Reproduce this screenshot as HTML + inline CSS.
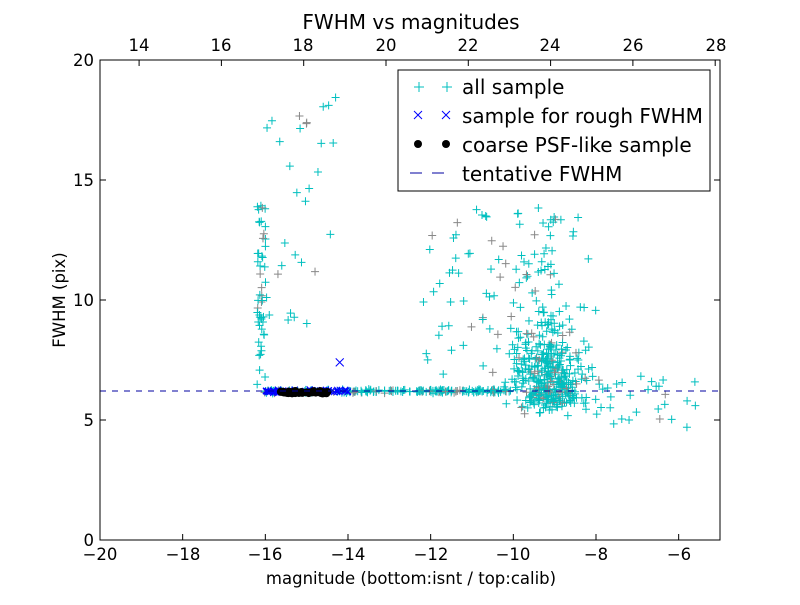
<!DOCTYPE html>
<html><head><meta charset="utf-8"><style>
body{margin:0;background:#fff;}
svg text{font-family:"DejaVu Sans","Liberation Sans",sans-serif;}
</style></head><body>
<svg id="s" width="800" height="600" xmlns="http://www.w3.org/2000/svg">
<rect width="800" height="600" fill="#fff"/>
<g id="pts"></g>
<line x1="100" y1="391" x2="720" y2="391" stroke="#0000a0" stroke-width="1.2" stroke-dasharray="6,6" shape-rendering="crispEdges"/>
<rect x="100" y="60" width="620" height="480" fill="none" stroke="#000" stroke-width="1"/>
<g font-size="16.5" fill="#000" text-anchor="middle">
<text x="100" y="560">−20</text><text x="183" y="560">−18</text><text x="265" y="560">−16</text>
<text x="348" y="560">−14</text><text x="431" y="560">−12</text><text x="513" y="560">−10</text>
<text x="596" y="560">−8</text><text x="679" y="560">−6</text>
<text x="139" y="51">14</text><text x="221" y="51">16</text><text x="303" y="51">18</text>
<text x="386" y="51">20</text><text x="468" y="51">22</text><text x="550" y="51">24</text>
<text x="633" y="51">26</text><text x="716" y="51">28</text>
</g>
<g font-size="16.5" text-anchor="end">
<text x="94" y="546">0</text><text x="94" y="426">5</text><text x="94" y="306">10</text>
<text x="94" y="186">15</text><text x="94" y="66">20</text>
</g>
<g stroke="#000" stroke-width="1" id="ticks"></g>
<text x="411" y="584" font-size="16.5" text-anchor="middle">magnitude (bottom:isnt / top:calib)</text>
<text x="411" y="29" font-size="20" text-anchor="middle">FWHM vs magnitudes</text>
<text transform="translate(65,300) rotate(-90)" font-size="16.5" text-anchor="middle">FWHM (pix)</text>
<rect x="398" y="70" width="312" height="121" fill="#fff" stroke="#000"/>
<g stroke-width="1">
<path d="M414,87h10M419,82v10M442,87h10M447,82v10" stroke="#00bfbf"/>
<path d="M414,111l8,8M422,111l-8,8M442,111l8,8M450,111l-8,8" stroke="#0000ff"/>
<circle cx="418" cy="144" r="4"/><circle cx="446" cy="144" r="4"/>
<path d="M410,173h12M432,173h12" stroke="#0000a0"/>
</g>
<g font-size="20"><text x="462" y="94">all sample</text><text x="462" y="123">sample for rough FWHM</text>
<text x="462" y="152">coarse PSF-like sample</text><text x="462" y="181">tentative FWHM</text></g>
</svg>
<script>
var g=document.getElementById('pts'),tk=document.getElementById('ticks');
var seed=7;function r(){seed=(seed*16807)%2147483647;return seed/2147483647;}
function n(){return (r()+r()+r()-1.5)/0.87;}
function X(v){return 100+(v+20)*41.333;}function Y(v){return 540-v*24;}
var s='';
function plus(x,y,c){var px=X(x),py=Y(y);if(px<101||px>719||py<61||py>539)return;s+='<path d="M'+(px-4)+','+py+'h8M'+px+','+(py-4)+'v8" stroke="'+c+'" stroke-width="1" fill="none"/>';}
function col(){return r()<0.15?'#888':'#00bfbf';}
var i;
for(i=0;i<200;i++){var x=-16+r()*6;plus(x,6.2+n()*0.06,col());}
for(i=0;i<50;i++){plus(-16.1+n()*0.1,6+r()*8,col());}
for(i=0;i<30;i++){plus(-16+r()*1.7,9+r()*9.5,col());}
for(i=0;i<380;i++){var x=-9.1+n()*0.75;var y=6.2+Math.abs(n())*2.3;if(r()<0.3)y=6.2-Math.abs(n())*0.8;if(r()<0.15)y=6+r()*7.5;plus(x,y,col());}
for(i=0;i<70;i++){plus(-11+r()*2,6+r()*8,col());}
for(i=0;i<25;i++){plus(-12.3+r()*1.3,6.5+r()*7,col());}
for(i=0;i<25;i++){plus(-8+r()*2.5,4.8+r()*2.2,col());}
plus(-5.8,4.7,'#00bfbf');plus(-7.2,5,'#00bfbf');plus(-7.5,6.5,'#00bfbf');
for(i=0;i<70;i++){var px=X(-16+r()*2),py=Y(6.2+n()*0.06);s+='<path d="M'+(px-3)+','+(py-3)+'l6,6M'+(px+3)+','+(py-3)+'l-6,6" stroke="#0000ff" fill="none"/>';}
s+='<path d="M'+(X(-14.2)-4)+','+(Y(7.4)-4)+'l8,8m0,-8l-8,8" stroke="#0000ff" fill="none"/>';
for(i=0;i<40;i++){var x=r()<0.5?-15.7+r()*0.6:-15+r()*0.5;s+='<circle cx="'+X(x)+'" cy="'+Y(6.15+n()*0.05)+'" r="4" fill="#000"/>';}
g.innerHTML=s;
var t='';
for(var v=-20;v<=-5;v+=2){var px=X(v);t+='<path d="M'+px+',540v-6"/>';}
for(var v=14;v<=28;v+=2){var px=100+(v-13.05)*41.15;t+='<path d="M'+px+',60v6"/>';}
for(var v=0;v<=20;v+=5){var py=Y(v);t+='<path d="M100,'+py+'h6M720,'+py+'h-6"/>';}
tk.innerHTML=t;
</script>
</body></html>
